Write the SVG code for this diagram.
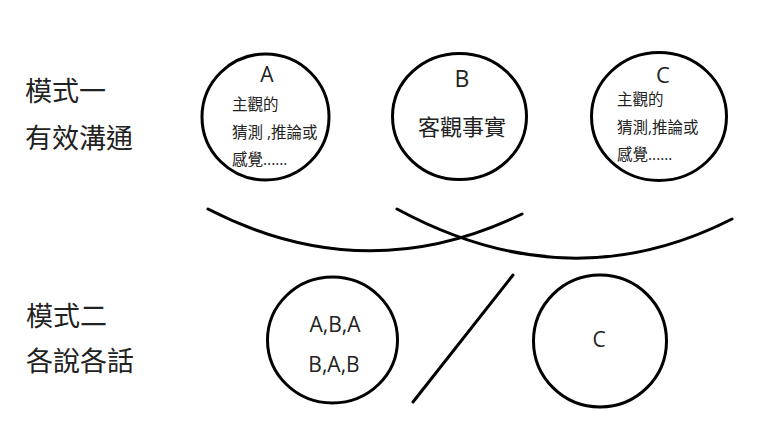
<svg xmlns="http://www.w3.org/2000/svg" width="768" height="444" viewBox="0 0 768 444">
<style>
text{font-family:"Open Sans","Noto Sans CJK TC",sans-serif;fill:#222}
.c{fill:none;stroke:#000;stroke-width:3}
.l{fill:none;stroke:#000;stroke-width:3;stroke-linecap:round}
.t{font-size:27px}
.s{font-size:15.5px}
.m{text-anchor:middle}
</style>
<rect width="768" height="444" fill="#fff"/>
<g id="labels">
<text class="t" x="25" y="101">模式一</text>
<text class="t" x="25" y="148">有效溝通</text>
<text class="t" x="26" y="326">模式二</text>
<text class="t" x="26" y="371">各說各話</text>
</g>
<g id="nodeA">
<ellipse class="c" cx="265.5" cy="117" rx="63.5" ry="63"/>
<text class="m" x="267" y="82" font-size="21">A</text>
<text class="s" x="232" y="110">主觀的</text>
<text class="s" x="232" y="138">猜測 ,推論或</text>
<text class="s" x="232" y="165">感覺......</text>
</g>
<g id="nodeB">
<ellipse class="c" cx="459.5" cy="116.5" rx="67" ry="63"/>
<text class="m" x="462" y="87" font-size="23">B</text>
<text class="m" x="462" y="135" font-size="22">客觀事實</text>
</g>
<g id="nodeC">
<ellipse class="c" cx="659" cy="116.5" rx="67.5" ry="64"/>
<text class="m" x="663" y="83" font-size="22">C</text>
<text class="s" x="617" y="105">主觀的</text>
<text class="s" x="617" y="133">猜測,推論或</text>
<text class="s" x="617" y="160">感覺......</text>
</g>
<g id="nodeAB">
<ellipse class="c" cx="332.5" cy="340" rx="65" ry="63"/>
<text class="m" x="335" y="332" font-size="21">A,B,A</text>
<text class="m" x="334" y="372" font-size="21">B,A,B</text>
</g>
<g id="nodeC2">
<ellipse class="c" cx="600" cy="341" rx="66.5" ry="66"/>
<text class="m" x="599" y="347" font-size="21">C</text>
</g>
<g id="connectors">
<path class="l" d="M208,209 Q365,290 522,214"/>
<path class="l" d="M397,209 Q569,302 732,219"/>
<path class="l" d="M413,402 L513,275"/>
</g>
</svg>
